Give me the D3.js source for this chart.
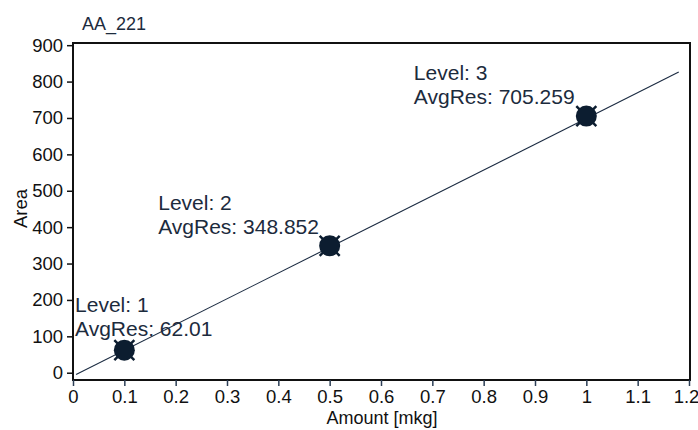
<!DOCTYPE html>
<html><head><meta charset="utf-8">
<script src="https://cdn.jsdelivr.net/npm/d3@7"></script>
<style>body{margin:0;background:#fff}svg{display:block;font-family:"Liberation Sans",Arial,sans-serif}</style>
</head><body><svg id="c" width="698" height="430"></svg>
<script>
const title = "AA_221";
const amounts = [0.1, 0.5, 1.0];
const areas = [62.01, 348.852, 705.259];
const levels = [1, 2, 3];
const fitX = [0.006, 1.18];
const fitY = [-5, 826];
const xTicks = [0,0.1,0.2,0.3,0.4,0.5,0.6,0.7,0.8,0.9,1,1.1,1.2];
const yTicks = [0,100,200,300,400,500,600,700,800,900];
const labelX = [0.004, 0.166, 0.664];
const labelY = [166, 448, 805];

const svg = d3.select("#c");
const L = 73, R = 689, T = 43, B = 380;
const x = d3.scaleLinear().domain([0, 1.2]).range([L, R]);
const y = d3.scaleLinear().domain([-20, 906]).range([B, T]);

// frame
svg.append("rect").attr("x", L).attr("y", T).attr("width", R - L + 1).attr("height", B - T)
  .attr("fill", "none").attr("stroke", "#111").attr("stroke-width", 2);

// axes
const xa = svg.append("g").attr("transform", `translate(0,${B})`)
  .call(d3.axisBottom(x).tickValues(xTicks).tickFormat(d => String(+d.toFixed(1))).tickSize(6).tickSizeOuter(0));
xa.select(".domain").remove();
xa.selectAll("line").attr("stroke", "#2c3e55").attr("stroke-width", 1.5);
xa.selectAll("text").attr("font-size", 18.5).attr("fill", "#111").attr("dy", "0.74em")
  .attr("font-family", "'Liberation Sans',Arial,sans-serif");
xa.selectAll("text").filter(d => d === 1.2).attr("dx", -3);

const ya = svg.append("g").attr("transform", `translate(${L},0)`)
  .call(d3.axisLeft(y).tickValues(yTicks).tickSize(6).tickSizeOuter(0));
ya.select(".domain").remove();
ya.selectAll("line").attr("stroke", "#111").attr("stroke-width", 1.5);
ya.selectAll("text").attr("font-size", 18.5).attr("fill", "#111").attr("x", -10)
  .attr("font-family", "'Liberation Sans',Arial,sans-serif");

// title
svg.append("text").attr("x", 82).attr("y", 30).attr("font-size", 18).attr("fill", "#1c2b3d").text(title);
// axis labels
svg.append("text").attr("x", 382).attr("y", 424).attr("text-anchor", "middle")
  .attr("font-size", 18).attr("fill", "#111").text("Amount [mkg]");
svg.append("text").attr("transform", `translate(27,${(T + B) / 2 - 3}) rotate(-90)`).attr("text-anchor", "middle")
  .attr("font-size", 18.5).attr("fill", "#111").text("Area");

// fit line
svg.append("line").attr("x1", x(fitX[0])).attr("y1", y(fitY[0])).attr("x2", x(fitX[1])).attr("y2", y(fitY[1]))
  .attr("stroke", "#1a2a40").attr("stroke-width", 1.1);

// markers
const pts = svg.append("g");
amounts.forEach((a, i) => {
  const g = pts.append("g").attr("transform", `translate(${x(a)},${y(areas[i])})`);
  g.append("path").attr("d", "M-10,-10L10,10M-10,10L10,-10").attr("stroke", "#0c1d30").attr("stroke-width", 2.5);
  g.append("circle").attr("r", 10.5).attr("fill", "#0c1d30");
});

// labels
const lab = svg.append("g").attr("fill", "#1c2b3d").attr("font-size", 21);
amounts.forEach((a, i) => {
  const lx = x(labelX[i]);
  const ly = y(labelY[i]);
  lab.append("text").attr("x", lx).attr("y", ly).text("Level: " + levels[i]);
  lab.append("text").attr("x", lx).attr("y", ly + 24).text("AvgRes: " + areas[i]);
});
</script></body></html>
